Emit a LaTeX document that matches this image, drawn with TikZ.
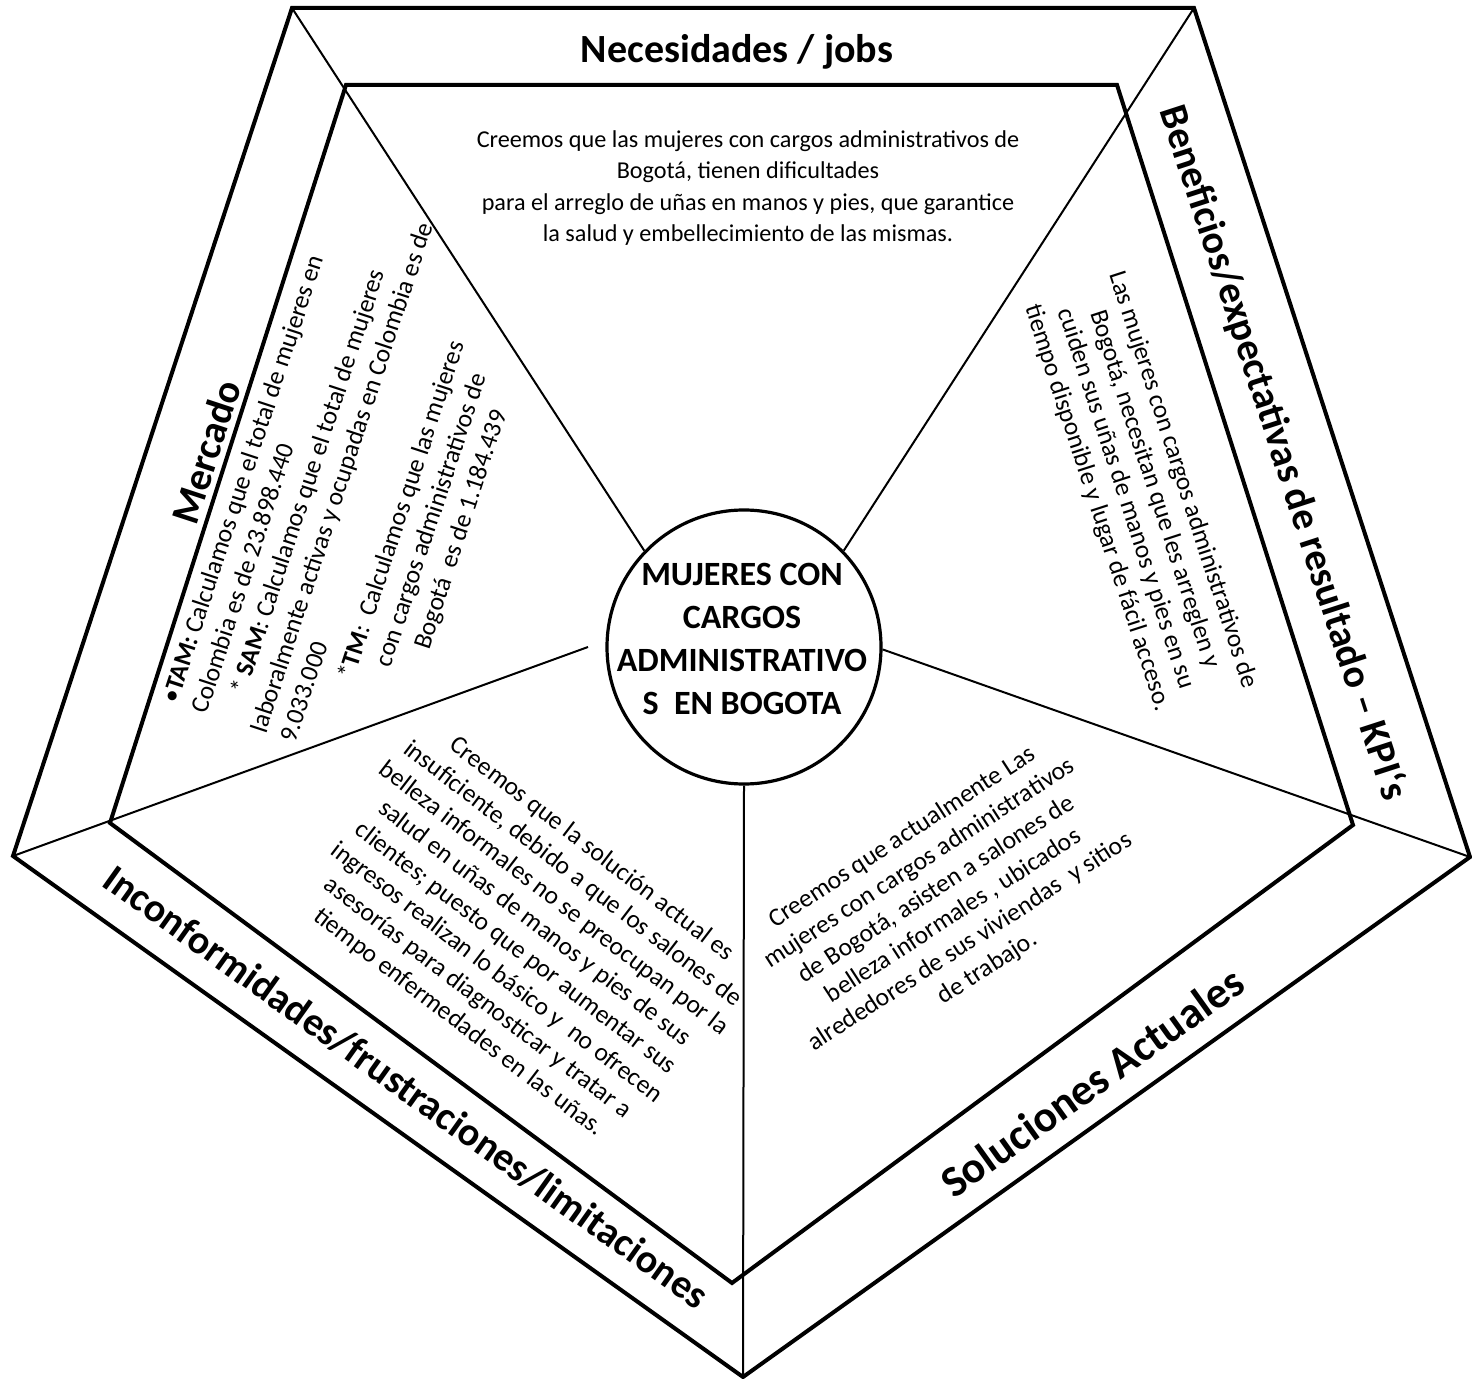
\documentclass[tikz,border=0pt]{standalone}
\usepackage{fontspec}
\setmainfont{Carlito}
\begin{document}
\begin{tikzpicture}[x=0.5pt,y=-0.5pt,
  edge/.style={line width=2pt, line join=miter},
  spoke/.style={line width=1pt},
  ring/.style={draw, circle, line width=1.6pt, minimum size=137pt, inner sep=0pt},
  title/.style={font=\fontsize{20}{24}\selectfont\bfseries, inner sep=0pt},
  body/.style={font=\fontsize{12.8}{15.6}\selectfont, inner sep=0pt, align=center},
  topbody/.style={font=\fontsize{12.1}{15.8}\selectfont, inner sep=0pt, align=center},
  ctext/.style={font=\fontsize{17}{21.5}\selectfont\bfseries, inner sep=0pt, align=center}
]
\useasboundingbox (0,0) rectangle (1472,1379);
% outer pentagon
\coordinate (O1) at (292,8);
\coordinate (O2) at (1194,8);
\coordinate (O3) at (1470,857);
\coordinate (O4) at (743,1377);
\coordinate (O5) at (13,856);
% inner pentagon
\coordinate (I1) at (346,85);
\coordinate (I2) at (1117,85);
\coordinate (I3) at (1353,825);
\coordinate (I4) at (732,1283);
\coordinate (I5) at (110,823);
\draw[edge] (O1)--(O2)--(O3)--(O4)--(O5)--cycle;
\draw[edge] (I1)--(I2)--(I3)--(I4)--(I5)--cycle;
% centre
\node[ring] (c) at (744,647) {};
\coordinate (L) at (588,647);
\draw[spoke] (O1) -- (c.136);
\draw[spoke] (O2) -- (c.44);
\draw[spoke] (O3) -- (c.-1);
\draw[spoke] (O4) -- (c.south);
\draw[spoke] (O5) -- (L);
\node[ctext] (ct) at (742,639) {MUJERES CON\\CARGOS\\ADMINISTRATIVO\\S\ \ EN BOGOTA};
% Necesidades
\node[title] (tN) at (737,52) {Necesidades / jobs};
\node[topbody] (bN) at (748,188) {Creemos que las mujeres con cargos administrativos de\\Bogotá, tienen dificultades\\para el arreglo de uñas en manos y pies, que garantice\\la salud y embellecimiento de las mismas.};
% Mercado
\node[title, rotate=71.8] (tM) at (206,452) {Mercado};
\node[body, align=left, rotate=71.8, anchor=west] (bM1) at (228,722) {•\textbf{TAM:} Calculamos que el total de mujeres en\\Colombia es de 23.898.440\\\hspace*{1.2em}* \textbf{SAM}: Calculamos que el total de mujeres\\laboralmente activas y ocupadas en Colombia es de\\9.033.000};
\node[body, rotate=71.8] (bM2) at (432,520) {*\textbf{TM}:\ \ Calculamos que las mujeres\\con cargos administrativos de\\Bogotá\ \ es de 1.184.439};
% Beneficios
\node[title, rotate=-72] (tB) at (1283,453) {Beneficios/expectativas de resultado – KPI\char"60 s};
\node[body, rotate=-72, font=\fontsize{12.8}{15}\selectfont] (bB) at (1140,494) {Las mujeres con cargos administrativos de\\Bogotá, necesitan que les arreglen y\\cuiden sus uñas de manos y pies en su\\tiempo disponible y lugar de fácil acceso.};
% Soluciones
\node[title, rotate=35.6, font=\fontsize{22}{26}\selectfont\bfseries] (tS) at (1092,1082) {Soluciones Actuales};
\node[body, rotate=33] (bS) at (945,903) {Creemos que actualmente Las\\mujeres con cargos administrativos\\de Bogotá, asisten a salones de\\belleza informales , ubicados\\alrededores de sus viviendas\ \ y sitios\\de trabajo.};
% Inconformidades
\node[title, rotate=-35.5] (tI) at (406,1087) {Inconformidades/frustraciones/limitaciones};
\node[body, rotate=-37.5] (bI) at (525,936) {Creemos que la solución actual es\\insuficiente, debido a que los salones de\\belleza informales no se preocupan por la\\salud en uñas de manos y pies de sus\\clientes; puesto que por aumentar sus\\ingresos realizan lo básico y\ \ no ofrecen\\asesorías para diagnosticar y tratar a\\tiempo enfermedades en las uñas.};
\end{tikzpicture}
\end{document}
